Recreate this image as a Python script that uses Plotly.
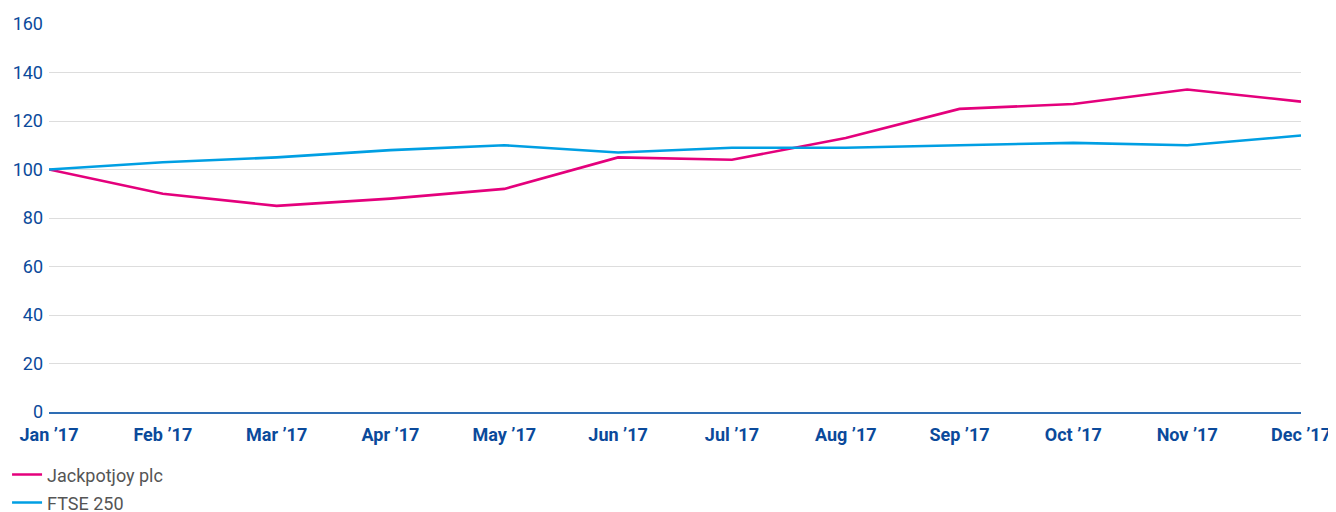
import plotly.graph_objects as go

months = ["Jan ’17", "Feb ’17", "Mar ’17", "Apr ’17", "May ’17", "Jun ’17",
          "Jul ’17", "Aug ’17", "Sep ’17", "Oct ’17", "Nov ’17", "Dec ’17"]
jackpotjoy = [100, 90, 85, 88, 92, 105, 104, 113, 125, 127, 133, 128]
ftse250 = [100, 103, 105, 108, 110, 107, 109, 109, 110, 111, 110, 114]
y_ticks = [0, 20, 40, 60, 80, 100, 120, 140, 160]

fig = go.Figure()
fig.add_trace(go.Scatter(x=months, y=jackpotjoy, mode="lines", name="Jackpotjoy plc",
                         line=dict(color="#e4007c", width=2.6), legend="legend"))
fig.add_trace(go.Scatter(x=months, y=ftse250, mode="lines", name="FTSE 250",
                         line=dict(color="#009fe3", width=2.6), legend="legend2"))

leg_common = dict(orientation="v", x=-0.0335, xanchor="left", yanchor="middle",
                  font=dict(size=18, color="#555555", family="Roboto, sans-serif"),
                  itemwidth=30, bgcolor="rgba(0,0,0,0)", borderwidth=0)

fig.update_layout(
    width=1328, height=504,
    margin=dict(l=41, r=35, t=16, b=100, autoexpand=False),
    plot_bgcolor="white", paper_bgcolor="white",
    font=dict(family="Roboto, sans-serif"),
    showlegend=True,
    legend=dict(y=-0.162, **leg_common),
    legend2=dict(y=-0.234, **leg_common),
    xaxis=dict(type="category", range=[0, 11], showgrid=False, automargin=False,
               showline=True, linecolor="#2e6db4", linewidth=1.5,
               tickfont=dict(size=18, color="#0b4a9b", weight="bold"),
               ticks="", zeroline=False, ticklabelstandoff=6),
    yaxis=dict(range=[0, 160], tickvals=y_ticks, showgrid=True, gridcolor="#dddddd",
               gridwidth=1, zeroline=False, showline=False, ticks="", automargin=False,
               tickfont=dict(size=18, color="#0b4a9b"), ticklabelstandoff=5),
)

fig.write_html("out.html")
